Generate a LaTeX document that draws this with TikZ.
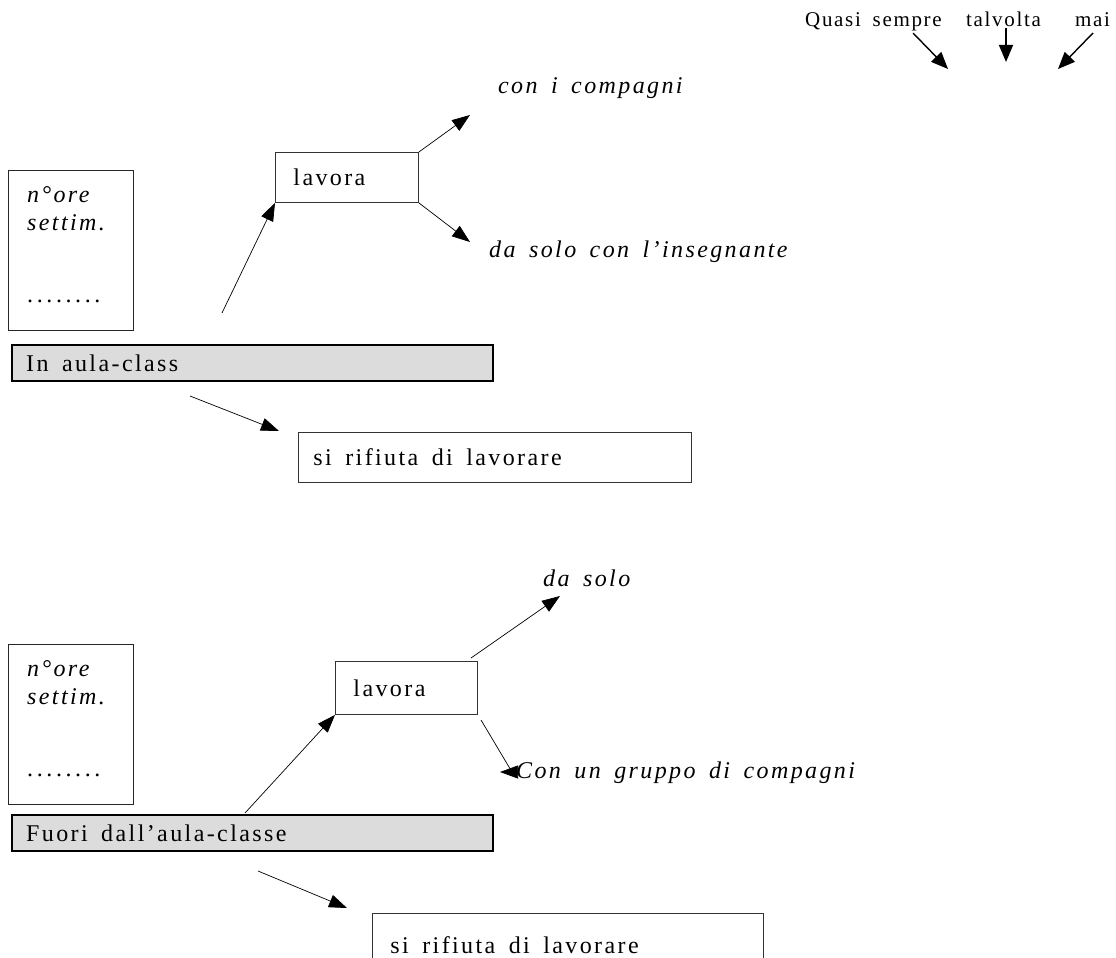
\documentclass[tikz,border=0pt]{standalone}
\usepackage{fontspec}
\setmainfont{Liberation Serif}
\newfontfamily\mainf{Liberation Serif}[LetterSpace=10,WordSpace=1.6]
\newfontfamily\legfont{Liberation Serif}[LetterSpace=8,WordSpace=1.7]
\usetikzlibrary{arrows.meta}
\definecolor{barfill}{HTML}{DCDCDC}
\newcommand\lbox[2]{\makebox[#1][l]{#2}}
\newcommand\dotrow{.\kern3.6pt.\kern3.6pt.\kern3.6pt.\kern3.6pt.\kern3.6pt.\kern3.6pt.\kern3.6pt.}
\begin{document}
\begin{tikzpicture}[x=1pt,y=-1pt,
  every node/.style={font=\mainf\fontsize{24}{28}\selectfont},
  arr/.style={line width=0.7pt,-{Triangle[length=18pt,width=13pt]}},
  legarr/.style={line width=1.4pt,-{Triangle[length=17pt,width=14pt]}},
  box/.style={draw=black!80,line width=0.9pt,anchor=north west,inner ysep=0pt},
  bar/.style={draw=black,line width=2.4pt,fill=barfill,anchor=north west,inner ysep=0pt},
  nbox/.style={draw=black!85,line width=0.9pt,anchor=north west,inner sep=0pt,minimum width=125pt,minimum height=160pt},
  lbl/.style={anchor=base west,inner sep=0pt},
  leg/.style={anchor=base west,inner sep=0pt,font=\legfont\fontsize{21}{25}\selectfont}]
\clip (0,0) rectangle (1116,958);
% legend
\node[leg] (qs) at (805,27) {Quasi sempre};
\node[leg] (tv) at (966,27) {talvolta};
\node[leg] (mai) at (1075,27) {mai};
\coordinate (qa) at (913,33); \coordinate (qb) at (948,69);
\coordinate (ta) at (1006,28); \coordinate (tb) at (1006,62);
\coordinate (ma) at (1093,33); \coordinate (mb) at (1058,69);
\draw[legarr] (qa) -- (qb);
\draw[legarr] (ta) -- (tb);
\draw[legarr] (ma) -- (mb);
% upper section
\node[nbox] (h1) at (8,170) {};
\node[lbl] (h1a) at ([shift={(19,32)}]h1.north west) {\itshape n°ore};
\node[lbl] (h1b) at ([shift={(19,60)}]h1.north west) {\itshape settim.};
\node[lbl] (h1c) at ([shift={(19,132)}]h1.north west) {\dotrow};
\node[bar,minimum width=481pt,minimum height=36pt,inner xsep=14pt] (b1) at (11,344) {\lbox{453pt}{In aula-class}};
\node[box,minimum width=143pt,minimum height=50pt,inner xsep=18pt] (l1) at (275,152) {\lbox{107pt}{lavora}};
\node[lbl] (c1) at (498,93) {\itshape con i compagni};
\node[lbl] (d1) at (489,257) {\itshape da solo con l’insegnante};
\node[box,minimum width=393pt,minimum height=50pt,inner xsep=15pt] (r1) at (298,432) {\lbox{363pt}{si rifiuta di lavorare}};
\coordinate (s1) at (222,313);
\coordinate (c1t) at (470,115);
\coordinate (d1t) at (470,242);
\coordinate (r1s) at (190,396); \coordinate (r1t) at (279,431);
\draw[arr] (s1) -- (l1.south west);
\draw[arr] (l1.north east) -- (c1t);
\draw[arr] (l1.south east) -- (d1t);
\draw[arr] (r1s) -- (r1t);
% lower section
\node[nbox] (h2) at (8,644) {};
\node[lbl] (h2a) at ([shift={(19,32)}]h2.north west) {\itshape n°ore};
\node[lbl] (h2b) at ([shift={(19,60)}]h2.north west) {\itshape settim.};
\node[lbl] (h2c) at ([shift={(19,132)}]h2.north west) {\dotrow};
\node[bar,minimum width=481pt,minimum height=36pt,inner xsep=14pt] (b2) at (11,814) {\lbox{453pt}{Fuori dall’aula-classe}};
\node[box,minimum width=142pt,minimum height=53pt,inner xsep=18pt] (l2) at (335,661) {\lbox{106pt}{lavora}};
\node[lbl] (c2) at (543,586) {\itshape da solo};
\node[lbl] (d2) at (516,778) {\itshape Con un gruppo di compagni};
\node[box,minimum width=391pt,minimum height=64pt,inner xsep=18pt] (r2) at (372,913) {\lbox{355pt}{si rifiuta di lavorare}};
\coordinate (s2) at (245,813);
\coordinate (c2s) at (471,658); \coordinate (c2t) at (560,596);
\coordinate (d2s) at (481,720); \coordinate (d2m) at (512,772);
\coordinate (r2s) at (258,871); \coordinate (r2t) at (347,908);
\draw[arr] (s2) -- (l2.south west);
\draw[arr] (c2s) -- (c2t);
\draw[arr] (d2s) -- (d2m) -- ([xshift=-12pt]d2m);
\draw[arr] (r2s) -- (r2t);
\end{tikzpicture}
\end{document}
